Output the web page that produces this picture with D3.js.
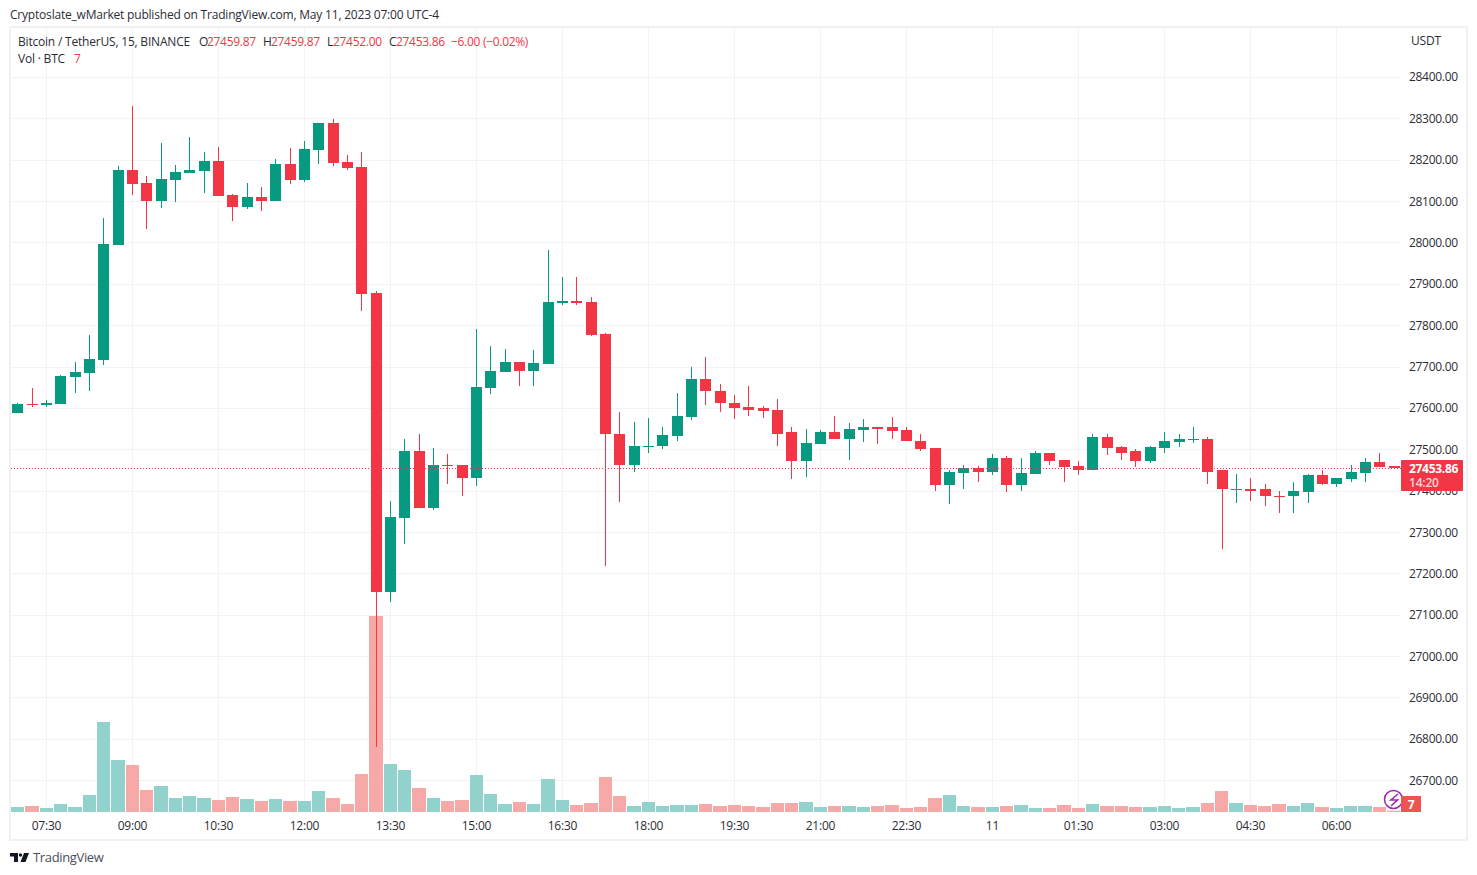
<!DOCTYPE html>
<html>
<head>
<meta charset="UTF-8">
<title>BTCUSDT 15</title>
<script src="https://d3js.org/d3.v7.min.js"></script>
<style>
html, body { margin: 0; padding: 0; background: #fff; }
svg { display: block; }
text { font-family: "Open Sans", "Noto Sans", sans-serif; font-size: 12px; letter-spacing: -0.2px; fill: #2b2d35; }
.num { letter-spacing: -0.3px; }
</style>
</head>
<body>
<svg id="chart" width="1477" height="875"></svg>
<script>
// one entry per 15 min candle, starting 07:00
var opens = [27587,27609,27606,27609,27674,27684,27715,27993,28175,28143,28100,28151,28168,28172,28197,28114,28085,28110,28100,28189,
  28151,28223,28289,28194,28182,27877,27154,27335,27497,27357,27463,27461,27430,27647,27686,27710,27688,27705,27853,27858,
  27855,27778,27538,27461,27505,27507,27531,27577,27669,27642,27613,27601,27599,27594,27541,27471,27512,27541,27526,27546,
  27553,27553,27546,27521,27502,27413,27442,27454,27444,27480,27413,27439,27492,27473,27459,27451,27529,27505,27495,27471,
  27502,27517,27524,27526,27449,27403,27405,27403,27388,27386,27396,27437,27415,27427,27442,27468,27459.87];
var highs = [27611,27647,27618,27679,27710,27776,28059,28185,28330,28160,28240,28187,28255,28218,28231,28117,28143,28134,28202,28228,
  28245,28289,28298,28211,28218,27882,27374,27524,27538,27502,27488,27461,27790,27749,27742,27710,27739,27981,27916,27916,
  27868,27780,27589,27565,27575,27553,27635,27698,27722,27657,27630,27652,27604,27621,27555,27548,27546,27580,27563,27572,
  27553,27577,27553,27536,27502,27449,27461,27459,27488,27483,27478,27495,27492,27475,27471,27536,27536,27509,27500,27509,
  27541,27538,27553,27529,27449,27439,27430,27415,27400,27420,27439,27449,27430,27461,27480,27490,27459.87];
var lows = [27587,27602,27602,27609,27635,27642,27703,27993,28114,28032,28083,28097,28168,28119,28112,28051,28080,28076,28100,28141,
  28146,28189,28185,28175,27834,26780,27130,27270,27357,27354,27415,27388,27410,27633,27686,27652,27652,27705,27848,27848,
  27773,27219,27372,27446,27490,27500,27521,27570,27606,27589,27572,27580,27575,27507,27427,27432,27512,27526,27473,27517,
  27512,27524,27519,27497,27398,27367,27403,27422,27437,27396,27398,27439,27461,27420,27437,27451,27485,27473,27456,27466,
  27490,27505,27514,27415,27258,27369,27374,27364,27345,27345,27369,27413,27408,27420,27422,27456,27452];
var closes = [27609,27606,27611,27676,27686,27718,27996,28175,28141,28100,28153,28170,28175,28197,28112,28085,28110,28100,28189,28151,
  28226,28289,28192,28180,27875,27156,27337,27497,27357,27463,27459,27430,27650,27688,27710,27688,27708,27855,27858,27853,
  27776,27536,27461,27507,27509,27534,27580,27669,27640,27611,27599,27596,27592,27538,27471,27514,27541,27526,27548,27553,
  27550,27543,27519,27500,27413,27444,27454,27444,27480,27413,27442,27492,27471,27456,27451,27529,27502,27492,27471,27505,
  27519,27526,27526,27446,27403,27405,27400,27386,27386,27398,27437,27415,27430,27444,27468,27456,27453.86];
var volumes = [25,30,20,40,25,85,450,260,235,110,130,70,80,70,60,75,65,55,65,55,
  55,105,70,40,190,980,240,210,120,70,55,60,185,90,40,50,40,165,60,35,
  45,175,80,30,50,30,35,35,40,30,35,30,25,45,45,50,25,30,30,25,
  30,35,20,25,70,85,30,25,25,30,35,20,20,35,20,40,30,30,25,25,
  30,20,25,45,105,45,35,30,40,30,45,25,20,30,30,25,7];

var priceTicks = d3.range(26700, 28401, 100);
var timeTicks = [[2,"07:30"],[8,"09:00"],[14,"10:30"],[20,"12:00"],[26,"13:30"],[32,"15:00"],[38,"16:30"],[44,"18:00"],
  [50,"19:30"],[56,"21:00"],[62,"22:30"],[68,"11"],[74,"01:30"],[80,"03:00"],[86,"04:30"],[92,"06:00"]];

var last = closes[closes.length - 1];
var upColor = "#089981", downColor = "#f23645";
var upVol = "#92d2cc", downVol = "#f7a9a7";
var gridColor = "#f2f3f5";

var svg = d3.select("#chart");

var x = d3.scaleLinear().domain([0, 96]).range([17.9, 1394.02]);
var y = d3.scaleLinear().domain([26700, 28400]).range([780.22, 76.93]);
var yVol = d3.scaleLinear().domain([0, 1000]).range([812, 612]);

function col(i) { return Math.floor(x(i)); }
function ypx(p) { return Math.round(y(p)); }

// frame
svg.append("rect").attr("x", 10).attr("y", 27).attr("width", 1457).attr("height", 813)
  .attr("fill", "#fff").attr("stroke", "#eff1f5").attr("stroke-width", 2);

svg.append("clipPath").attr("id", "plot").append("rect")
  .attr("x", 11).attr("y", 28).attr("width", 1390).attr("height", 784);

var plot = svg.append("g").attr("clip-path", "url(#plot)");

// grid
plot.append("g").selectAll("line").data(priceTicks).join("line")
  .attr("x1", 11).attr("x2", 1401)
  .attr("y1", d => ypx(d) + 0.5).attr("y2", d => ypx(d) + 0.5)
  .attr("stroke", gridColor);
plot.append("g").selectAll("line").data(timeTicks).join("line")
  .attr("x1", d => col(d[0]) + 0.5).attr("x2", d => col(d[0]) + 0.5)
  .attr("y1", 28).attr("y2", 812)
  .attr("stroke", gridColor);

// volume
plot.append("g").selectAll("rect").data(volumes).join("rect")
  .attr("x", (d, i) => Math.round(x(i) - 6.9))
  .attr("width", (d, i) => Math.round(x(i + 1) - 6.9) - Math.round(x(i) - 6.9) - 1)
  .attr("y", d => yVol(d))
  .attr("height", d => 812 - yVol(d))
  .attr("fill", (d, i) => closes[i] >= opens[i] ? upVol : downVol);

// candles
var candles = plot.append("g").selectAll("g").data(opens).join("g")
  .attr("fill", (d, i) => closes[i] >= opens[i] ? upColor : downColor);
candles.append("rect")
  .attr("x", (d, i) => col(i))
  .attr("width", 1)
  .attr("y", (d, i) => ypx(highs[i]))
  .attr("height", (d, i) => ypx(lows[i]) - ypx(highs[i]));
candles.append("rect")
  .attr("x", (d, i) => col(i) - 5)
  .attr("width", 11)
  .attr("y", (d, i) => ypx(Math.max(opens[i], closes[i])))
  .attr("height", (d, i) => Math.max(1, ypx(Math.min(opens[i], closes[i])) - ypx(Math.max(opens[i], closes[i]))));

// last price line
plot.append("line")
  .attr("x1", 11).attr("x2", 1401)
  .attr("y1", ypx(last) + 0.5).attr("y2", ypx(last) + 0.5)
  .attr("stroke", downColor).attr("stroke-dasharray", "1 2")
  .attr("shape-rendering", "crispEdges");

// axis labels
svg.append("g").selectAll("text").data(priceTicks).join("text")
  .attr("class", "num")
  .attr("x", 1409).attr("y", d => y(d) + 4.5).text(d => d.toFixed(2));
svg.append("g").selectAll("text").data(timeTicks).join("text")
  .attr("x", d => col(d[0]) + 0.5).attr("y", 830).attr("text-anchor", "middle").text(d => d[1]);
svg.append("text").attr("x", 1411).attr("y", 45).text("USDT");

// last price label
svg.append("rect").attr("x", 1401).attr("y", 460).attr("width", 62).attr("height", 31).attr("rx", 1).attr("fill", downColor);
svg.append("text").attr("class", "num").attr("x", 1409).attr("y", 473).style("fill", "#fff").style("font-weight", 700).text(last.toFixed(2));
svg.append("text").attr("x", 1409).attr("y", 487).style("fill", "#fbd5d8").style("font-weight", 600).text("14:20");

// flash + volume badge
svg.append("circle").attr("cx", 1393.5).attr("cy", 799.5).attr("r", 9).attr("fill", "#fff").attr("stroke", "#9c27b0").attr("stroke-width", 1.5);
svg.append("path").attr("d", "M1398 794 L1391 800 H1397.5 L1391 806").attr("fill", "none").attr("stroke", "#9c27b0").attr("stroke-width", 1.6);
svg.append("rect").attr("x", 1401).attr("y", 796).attr("width", 20).attr("height", 16).attr("fill", "#ef5350");
svg.append("text").attr("x", 1411).attr("y", 808.5).attr("text-anchor", "middle").style("fill", "#fff").style("font-weight", 700).text("7");

// header + legend
svg.append("text").attr("x", 10).attr("y", 19).text("Cryptoslate_wMarket published on TradingView.com, May 11, 2023 07:00 UTC-4");
svg.append("text").attr("x", 18).attr("y", 46).text("Bitcoin / TetherUS, 15, BINANCE");
var legend = [["O",199,"#2b2d35"],["27459.87",207,downColor],["H",263,"#2b2d35"],["27459.87",271,downColor],["L",327,"#2b2d35"],
  ["27452.00",333,downColor],["C",389,"#2b2d35"],["27453.86",396,downColor],["−6.00 (−0.02%)",451,downColor]];
svg.append("g").selectAll("text").data(legend).join("text")
  .attr("class", "num")
  .attr("x", d => d[1]).attr("y", 46).style("fill", d => d[2]).text(d => d[0]);
svg.append("text").attr("x", 18).attr("y", 63).text("Vol · BTC");
svg.append("text").attr("x", 74).attr("y", 63).style("fill", downColor).text("7");

// footer logo
svg.append("path").attr("d", "M10 853 H18 V862 H14 V856.5 H10 Z M24 853 H29 L25.5 862 H20.5 Z").attr("fill", "#131722");
svg.append("circle").attr("cx", 20.5).attr("cy", 855).attr("r", 1.7).attr("fill", "#131722");
svg.append("text").attr("x", 33).attr("y", 862).style("font-size", "13px").style("letter-spacing", "-0.35px").style("fill", "#4a4f5c").text("TradingView");
</script>
</body>
</html>
